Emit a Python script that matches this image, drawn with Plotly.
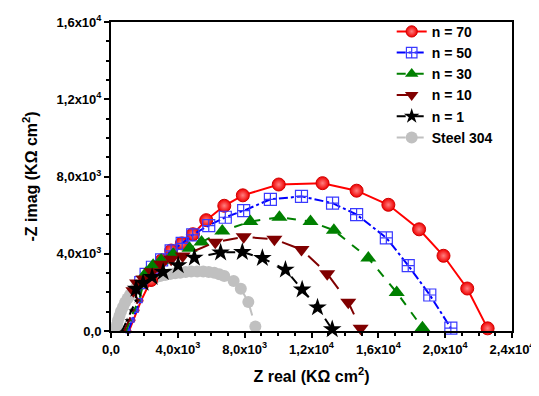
import plotly.graph_objects as go

# ---- data ----
red_x = [1080, 1320, 1560, 1800, 2400, 2700, 3040, 3600, 4240, 4900, 5700, 6780, 7890,
         10040, 12660, 14700, 16600, 18440, 19900, 21320, 22540]
red_y = [0, 560, 1070, 1575, 2640, 3200, 3660, 4165, 4535, 5010, 5740, 6485, 7025,
         7585, 7655, 7265, 6535, 5265, 3895, 2200, 137]

blue_x = [1020, 1260, 1500, 1740, 1780, 2100, 2480, 3030, 3600, 4260, 4890, 5850, 6840, 7940,
          9540, 11400, 13260, 14700, 16480, 17790, 19080, 20340]
blue_y = [0, 560, 1070, 1575, 2505, 2930, 3300, 3680, 4150, 4535, 4980, 5460, 5890, 6230,
          6820, 6970, 6620, 6030, 4825, 3390, 1865, 150]

green_x = [900, 1140, 1380, 1680, 2100, 2520, 3000, 3720, 4700, 5420, 6660, 8340,
           10080, 11940, 13340, 15400, 17100, 18640]
green_y = [0, 560, 1070, 1575, 3000, 3400, 3660, 3975, 4280, 4605, 5180, 5665,
           5890, 5665, 5215, 3775, 1995, 170]

dred_x = [780, 1080, 1320, 1620, 1340, 1560, 1940, 2430, 3000, 3600, 4290, 6240, 7940, 9780,
          11400, 12940, 14200, 14940]
dred_y = [0, 560, 1070, 1575, 2080, 2490, 2690, 3070, 3455, 3710, 3885, 4600, 4875, 4750,
          4215, 2970, 1490, 137]

black_x = [660, 960, 1200, 1500, 1500, 1920, 2460, 3120, 4020, 4990, 6560, 7860, 9060,
           10440, 11440, 12360, 13240]
black_y = [0, 560, 1070, 1575, 2180, 2490, 2790, 3050, 3400, 3795, 4065, 4090, 3775,
           3175, 2150, 1220, 85]

steel_x = [300, 360, 420, 510, 600, 720, 840, 990, 1140, 1320, 1500, 1710, 1920, 2160, 2400,
           2670, 2940, 3240, 3540, 3840, 4140, 4470, 4800, 5160, 5520, 5850, 6180, 6480,
           6780, 7340, 7770, 8220, 8640]
steel_y = [100, 330, 560, 790, 1020, 1245, 1470, 1680, 1880, 2060, 2235, 2370, 2490, 2600, 2690,
           2770, 2845, 2900, 2945, 2985, 3020, 3050, 3075, 3080, 3075, 3050, 3020, 2940,
           2845, 2590, 2185, 1500, 230]

names = ["n = 70", "n = 50", "n = 30", "n = 10", "n = 1", "Steel 304"]

x_tickvals = [0, 4000, 8000, 12000, 16000, 20000, 24000]
x_ticktext = ["0,0", "4,0x10<sup>3</sup>", "8,0x10<sup>3</sup>", "1,2x10<sup>4</sup>",
              "1,6x10<sup>4</sup>", "2,0x10<sup>4</sup>", "2,4x10<sup>4</sup>"]
y_tickvals = [0, 4000, 8000, 12000, 16000]
y_ticktext = ["0,0", "4,0x10<sup>3</sup>", "8,0x10<sup>3</sup>", "1,2x10<sup>4</sup>",
              "1,6x10<sup>4</sup>"]

FONT = "Arial, Liberation Sans, sans-serif"
N_BAND = 4  # first high-frequency points drawn as a thin streak


def sizes(n, big):
    return [4] * N_BAND + [big] * (n - N_BAND)


fig = go.Figure()

# gray drawn first (bottom)
fig.add_trace(go.Scatter(
    x=steel_x, y=steel_y, name=names[5], mode="lines+markers", legendrank=6,
    line=dict(color="#C0C0C0", width=2, dash="dash"),
    marker=dict(symbol="circle", size=12, color="#C0C0C0", opacity=1, line=dict(width=0))))

fig.add_trace(go.Scatter(
    x=red_x, y=red_y, name=names[0], mode="lines+markers", legendrank=1, cliponaxis=False,
    line=dict(color="#FF0000", width=2),
    marker=dict(symbol="circle", size=sizes(len(red_x), 13), color="#F00000", opacity=1,
                gradient=dict(type="radial", color="#FF8080"),
                line=dict(width=1, color="#D00000"))))

fig.add_trace(go.Scatter(
    x=blue_x, y=blue_y, name=names[1], mode="lines+markers", legendrank=2, cliponaxis=False,
    line=dict(color="#0000FF", width=2, dash="dashdot"),
    marker=dict(symbol="square-cross-open", size=sizes(len(blue_x), 12), color="#3A3AFF",
                opacity=1, line=dict(width=1.2, color="#3A3AFF"))))

fig.add_trace(go.Scatter(
    x=green_x, y=green_y, name=names[2], mode="lines+markers", legendrank=3, cliponaxis=False,
    line=dict(color="#008000", width=2, dash="dash"),
    marker=dict(symbol="triangle-up", size=sizes(len(green_x), 14), color="#008000",
                opacity=1, line=dict(width=0))))

fig.add_trace(go.Scatter(
    x=dred_x, y=dred_y, name=names[3], mode="lines+markers", legendrank=4, cliponaxis=False,
    line=dict(color="#800000", width=2, dash="longdash"),
    marker=dict(symbol="triangle-down", size=sizes(len(dred_x), 14), color="#800000",
                opacity=1, line=dict(width=0))))

fig.add_trace(go.Scatter(
    x=black_x, y=black_y, name=names[4], mode="lines+markers", legendrank=5, cliponaxis=False,
    line=dict(color="#000000", width=2, dash="dash"),
    marker=dict(symbol="star", size=sizes(len(black_x), 14), color="#000000",
                opacity=1, line=dict(width=0))))

axis_common = dict(
    showline=True, linewidth=2, linecolor="black", mirror=True,
    ticks="outside", ticklen=5, tickwidth=2, tickcolor="black",
    showgrid=False, zeroline=False, automargin=False,
    tickfont=dict(family=FONT, size=13, color="black", weight="bold"),
)

fig.update_xaxes(
    range=[0, 24000], tickmode="array", tickvals=x_tickvals, ticktext=x_ticktext,
    minor=dict(dtick=1000, ticks="outside", ticklen=3, tickwidth=1.5, tickcolor="black"),
    title=dict(text="Z real (KΩ cm<sup>2</sup>)",
               font=dict(family=FONT, size=16, color="black", weight="bold")),
    **axis_common)
fig.update_yaxes(
    range=[0, 16000], tickmode="array", tickvals=y_tickvals, ticktext=y_ticktext,
    minor=dict(dtick=1000, ticks="outside", ticklen=3, tickwidth=1.5, tickcolor="black"),
    title=dict(text="-Z imag (KΩ cm<sup>2</sup>)",
               font=dict(family=FONT, size=16, color="black", weight="bold")),
    **axis_common)

# the page body adds an 8px margin, so the figure is 8px smaller and margins shifted
fig.update_layout(
    width=531, height=388,
    margin=dict(l=103, r=27, t=8, b=65),
    paper_bgcolor="white", plot_bgcolor="white",
    legend=dict(x=0.70, y=1.02, xanchor="left", yanchor="top",
                bgcolor="rgba(0,0,0,0)", borderwidth=0,
                font=dict(family=FONT, size=14, color="black", weight="bold"),
                tracegroupgap=0, itemwidth=30),
    showlegend=True,
)

fig.write_html("out.html")
